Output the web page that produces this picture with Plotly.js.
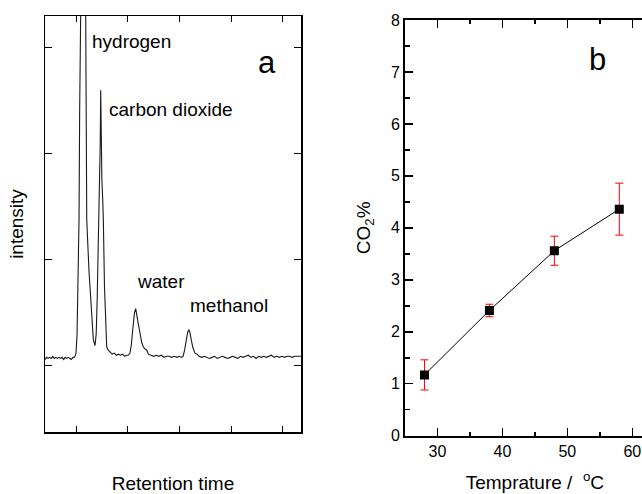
<!DOCTYPE html>
<html><head><meta charset="utf-8">
<script src="https://cdn.plot.ly/plotly-3.0.1.min.js"></script>
<style>
html,body{margin:0;padding:0;overflow:hidden;background:#fff;width:642px;height:494px}
#chart{width:700px;height:494px}
</style>
</head><body><div id="chart"></div>
<script>
// Panel a: chromatogram (arbitrary retention time units / intensity units)
const chromTime = [0.40,0.43,0.46,0.49,0.52,0.55,0.58,0.61,0.64,0.67,0.70,0.73,0.76,0.79,0.82,0.85,0.88,0.91,0.94,0.96,
  0.98,1.00,1.02,1.04,1.058,1.07,1.08,1.10,1.13,1.16,1.185,1.197,1.207,1.25,1.30,1.334,1.367,
  1.39,1.41,1.444,1.455,1.468,1.477,1.487,1.50,1.516,1.528,1.55,1.575,1.593,1.62,1.657,
  1.70,1.74,1.78,1.82,1.86,1.90,1.94,1.98,2.01,
  2.043,2.07,2.10,2.13,2.154,2.18,2.21,2.237,2.27,2.30,2.33,2.366,2.40,
  2.45,2.50,2.55,2.60,2.65,2.70,2.75,2.80,2.85,2.90,2.95,3.00,3.04,
  3.07,3.10,3.13,3.16,3.18,3.20,3.23,3.26,3.30,3.34,3.38,
  3.43,3.48,3.53,3.58,3.63,3.68,3.73,3.78,3.83,3.88,3.93,3.98,4.03,4.08,4.13,4.18,4.23,4.28,4.33,4.38,
  4.43,4.48,4.53,4.58,4.63,4.68,4.73,4.78,4.83,4.88,4.93,4.98,5.03,5.08,5.13,5.18,5.23,5.28,5.33,5.36];
const chromSignal = [1.06,1.08,1.07,1.08,1.07,1.09,1.07,1.08,1.07,1.08,1.07,1.08,1.06,1.08,1.07,1.08,1.07,1.06,1.08,1.08,
  1.09,1.12,1.30,1.80,2.38,3.40,4.40,5.60,6.20,5.80,4.50,3.20,2.38,1.90,1.50,1.25,1.19,
  1.30,1.65,2.38,2.70,3.10,3.60,3.10,2.75,2.57,2.38,1.75,1.35,1.18,1.15,1.135,
  1.11,1.12,1.10,1.11,1.10,1.11,1.09,1.10,1.10,
  1.12,1.20,1.36,1.50,1.54,1.48,1.38,1.31,1.22,1.18,1.16,1.15,1.11,
  1.10,1.09,1.10,1.09,1.10,1.08,1.09,1.09,1.08,1.09,1.08,1.09,1.08,
  1.09,1.15,1.25,1.32,1.34,1.32,1.24,1.17,1.12,1.11,1.09,
  1.08,1.09,1.08,1.07,1.08,1.09,1.07,1.08,1.09,1.08,1.07,1.08,1.09,1.08,1.07,1.09,1.08,1.09,1.10,1.08,
  1.09,1.07,1.09,1.08,1.09,1.08,1.09,1.10,1.08,1.09,1.08,1.09,1.08,1.09,1.09,1.08,1.09,1.09,1.09,1.09];
const peakNames = ["hydrogen","carbon dioxide","water","methanol"];

// Panel b: CO2 % vs temperature
const tempC = [28,38,48,58];
const co2Pct = [1.17,2.41,3.56,4.36];
const co2Err = [0.29,0.12,0.28,0.50];

const W = 700, H = 494;
const FONT = "Liberation Sans, Arial, Helvetica, sans-serif";

const traces = [
  {x: chromTime, y: chromSignal, xaxis:'x', yaxis:'y', type:'scatter', mode:'lines',
   line:{color:'#1a1a1a', width:1.1}, hoverinfo:'skip', showlegend:false},
  {x: tempC, y: co2Pct, xaxis:'x2', yaxis:'y2', type:'scatter', mode:'lines+markers',
   line:{color:'#000', width:1}, marker:{symbol:'square', size:9, color:'#000'},
   error_y:{type:'data', array: co2Err, visible:true, color:'#ff0000', thickness:1, width:4},
   showlegend:false}
];

const peakPos = [[1.27,4.056],[1.60,3.42],[2.14,1.795],[3.164,1.568]];
const annotations = peakNames.map((t,i)=>({
  text:t, x:peakPos[i][0], y:peakPos[i][1], xref:'x', yref:'y', xanchor:'left', yanchor:'middle',
  showarrow:false, font:{size:19, color:'#000', family:FONT}
}));
annotations.push({text:'a', x:4.70, y:3.86, xref:'x', yref:'y', xanchor:'center', yanchor:'middle',
  showarrow:false, font:{size:31, color:'#000', family:FONT}});
annotations.push({text:'b', x:54.64, y:7.24, xref:'x2', yref:'y2', xanchor:'center', yanchor:'middle',
  showarrow:false, font:{size:31, color:'#000', family:FONT}});

const layout = {
  width: W, height: H,
  margin:{l:0,r:0,t:0,b:0},
  paper_bgcolor:'#fff', plot_bgcolor:'#fff',
  font:{family:FONT, color:'#000', size:16},
  showlegend:false,
  xaxis:{domain:[45/W, 301/W], range:[0.40,5.35], showgrid:false, zeroline:false,
    tickvals:[1,2,3,4,5], showticklabels:false, ticks:'inside', ticklen:6, tickcolor:'#000', tickwidth:1,
    showline:true, linecolor:'#000', linewidth:1.5, mirror:'ticks',
    title:{text:'Retention time', font:{size:19}, standoff:44}},
  yaxis:{domain:[(H-432)/H, (H-16)/H], range:[0.376,4.30], showgrid:false, zeroline:false,
    tickvals:[1,2,3,4], showticklabels:false, ticks:'inside', ticklen:7, tickcolor:'#000', tickwidth:1,
    showline:true, linecolor:'#000', linewidth:1.5, mirror:'ticks',
    title:{text:'intensity', font:{size:19}, standoff:15}},
  xaxis2:{domain:[405/W, (405+40*6.494)/W], range:[25,65], anchor:'y2', showgrid:false, zeroline:false,
    tickvals:[30,40,50,60], ticks:'inside', ticklen:8, tickwidth:1.5, tickcolor:'#000',
    minor:{tickvals:[35,45,55], ticks:'inside', ticklen:4, tickwidth:1.5, tickcolor:'#000'},
    showline:true, linecolor:'#000', linewidth:2, mirror:'ticks',
    tickfont:{size:16},
    title:{text:'Temprature /  <sup>o</sup>C', font:{size:19}, standoff:17}},
  yaxis2:{domain:[(H-435.7)/H, (H-20)/H], range:[0,8], anchor:'x2', showgrid:false, zeroline:false,
    tickvals:[0,1,2,3,4,5,6,7,8], ticks:'inside', ticklen:8, tickwidth:1.5, tickcolor:'#000',
    minor:{tickvals:[0.5,1.5,2.5,3.5,4.5,5.5,6.5,7.5], ticks:'inside', ticklen:5, tickwidth:1.5, tickcolor:'#000'},
    showline:true, linecolor:'#000', linewidth:2, mirror:'ticks',
    tickfont:{size:16},
    title:{text:'CO<sub>2</sub>%', font:{size:19}, standoff:15}},
  annotations: annotations
};

Plotly.newPlot('chart', traces, layout, {staticPlot:true, displayModeBar:false});
</script>
</body></html>
